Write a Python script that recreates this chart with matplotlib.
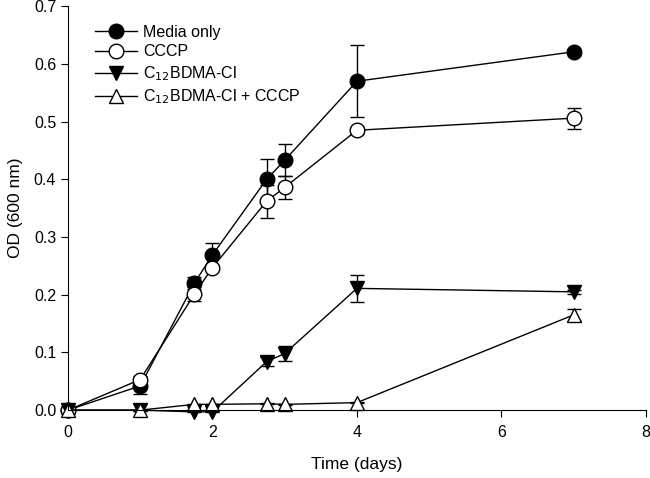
import matplotlib.pyplot as plt
import numpy as np

plt.rcParams['font.family'] = ['Liberation Sans', 'DejaVu Sans']

days = [0, 1, 1.75, 2, 2.75, 3, 4, 7]

media = [0.0, 0.042, 0.220, 0.269, 0.400, 0.433, 0.570, 0.621]
media_err = [0.002, 0.014, 0.010, 0.021, 0.036, 0.028, 0.062, 0.005]
cccp = [0.0, 0.053, 0.201, 0.247, 0.362, 0.386, 0.485, 0.506]
cccp_err = [0.002, 0.006, 0.012, 0.005, 0.029, 0.020, 0.006, 0.018]
c12 = [0.0, 0.0, -0.003, -0.003, 0.084, 0.098, 0.211, 0.205]
c12_err = [0.001, 0.001, 0.001, 0.001, 0.008, 0.013, 0.024, 0.003]
c12_cccp = [0.0, 0.0, 0.010, 0.010, 0.011, 0.010, 0.013, 0.165]
c12_cccp_err = [0.001, 0.001, 0.001, 0.001, 0.001, 0.001, 0.001, 0.011]

labels = ['Media only', 'CCCP', r'C$_{12}$BDMA-Cl', r'C$_{12}$BDMA-Cl + CCCP']

fig = plt.figure(figsize=(6.5, 4.78), dpi=100)
ax = fig.add_axes([0.1046, 0.142, 0.889, 0.845])

series = [
    (media, media_err, 'o', 'black'),
    (cccp, cccp_err, 'o', 'white'),
    (c12, c12_err, 'v', 'black'),
    (c12_cccp, c12_cccp_err, '^', 'white'),
]
for (vals, errs, mk, fc), lab in zip(series, labels):
    cont = ax.errorbar(days, vals, yerr=errs, marker=mk, markersize=10.5,
                       markerfacecolor=fc, markeredgecolor='black',
                       markeredgewidth=1, color='black', lw=1,
                       ecolor='black', elinewidth=1, capsize=5, capthick=1,
                       label=lab)
    for art in cont.get_children():
        art.set_clip_on(False)

ax.set_xlim(0, 8)
ax.set_ylim(0, 0.7)
ax.set_xticks([0, 2, 4, 6, 8])
ax.set_yticks(np.arange(0, 0.71, 0.1))
ax.set_yticklabels([f'{v:.1f}' for v in np.arange(0, 0.71, 0.1)])
ax.spines['top'].set_visible(False)
ax.spines['right'].set_visible(False)
ax.tick_params(direction='out', length=5, labelsize=11.5)
ax.tick_params(axis='x', pad=6)
ax.set_xlabel('Time (days)', fontsize=12.5, labelpad=12)
ax.set_ylabel('OD (600 nm)', fontsize=12.5, labelpad=8)

handles, labs = ax.get_legend_handles_labels()
handles = [h[0] for h in handles]
ax.legend(handles, labs, loc='upper left', bbox_to_anchor=(0.022, 0.99),
          frameon=False, fontsize=11.5, handlelength=2.6, handletextpad=0.4,
          labelspacing=0.3)

fig.savefig('out.png', dpi=100)
